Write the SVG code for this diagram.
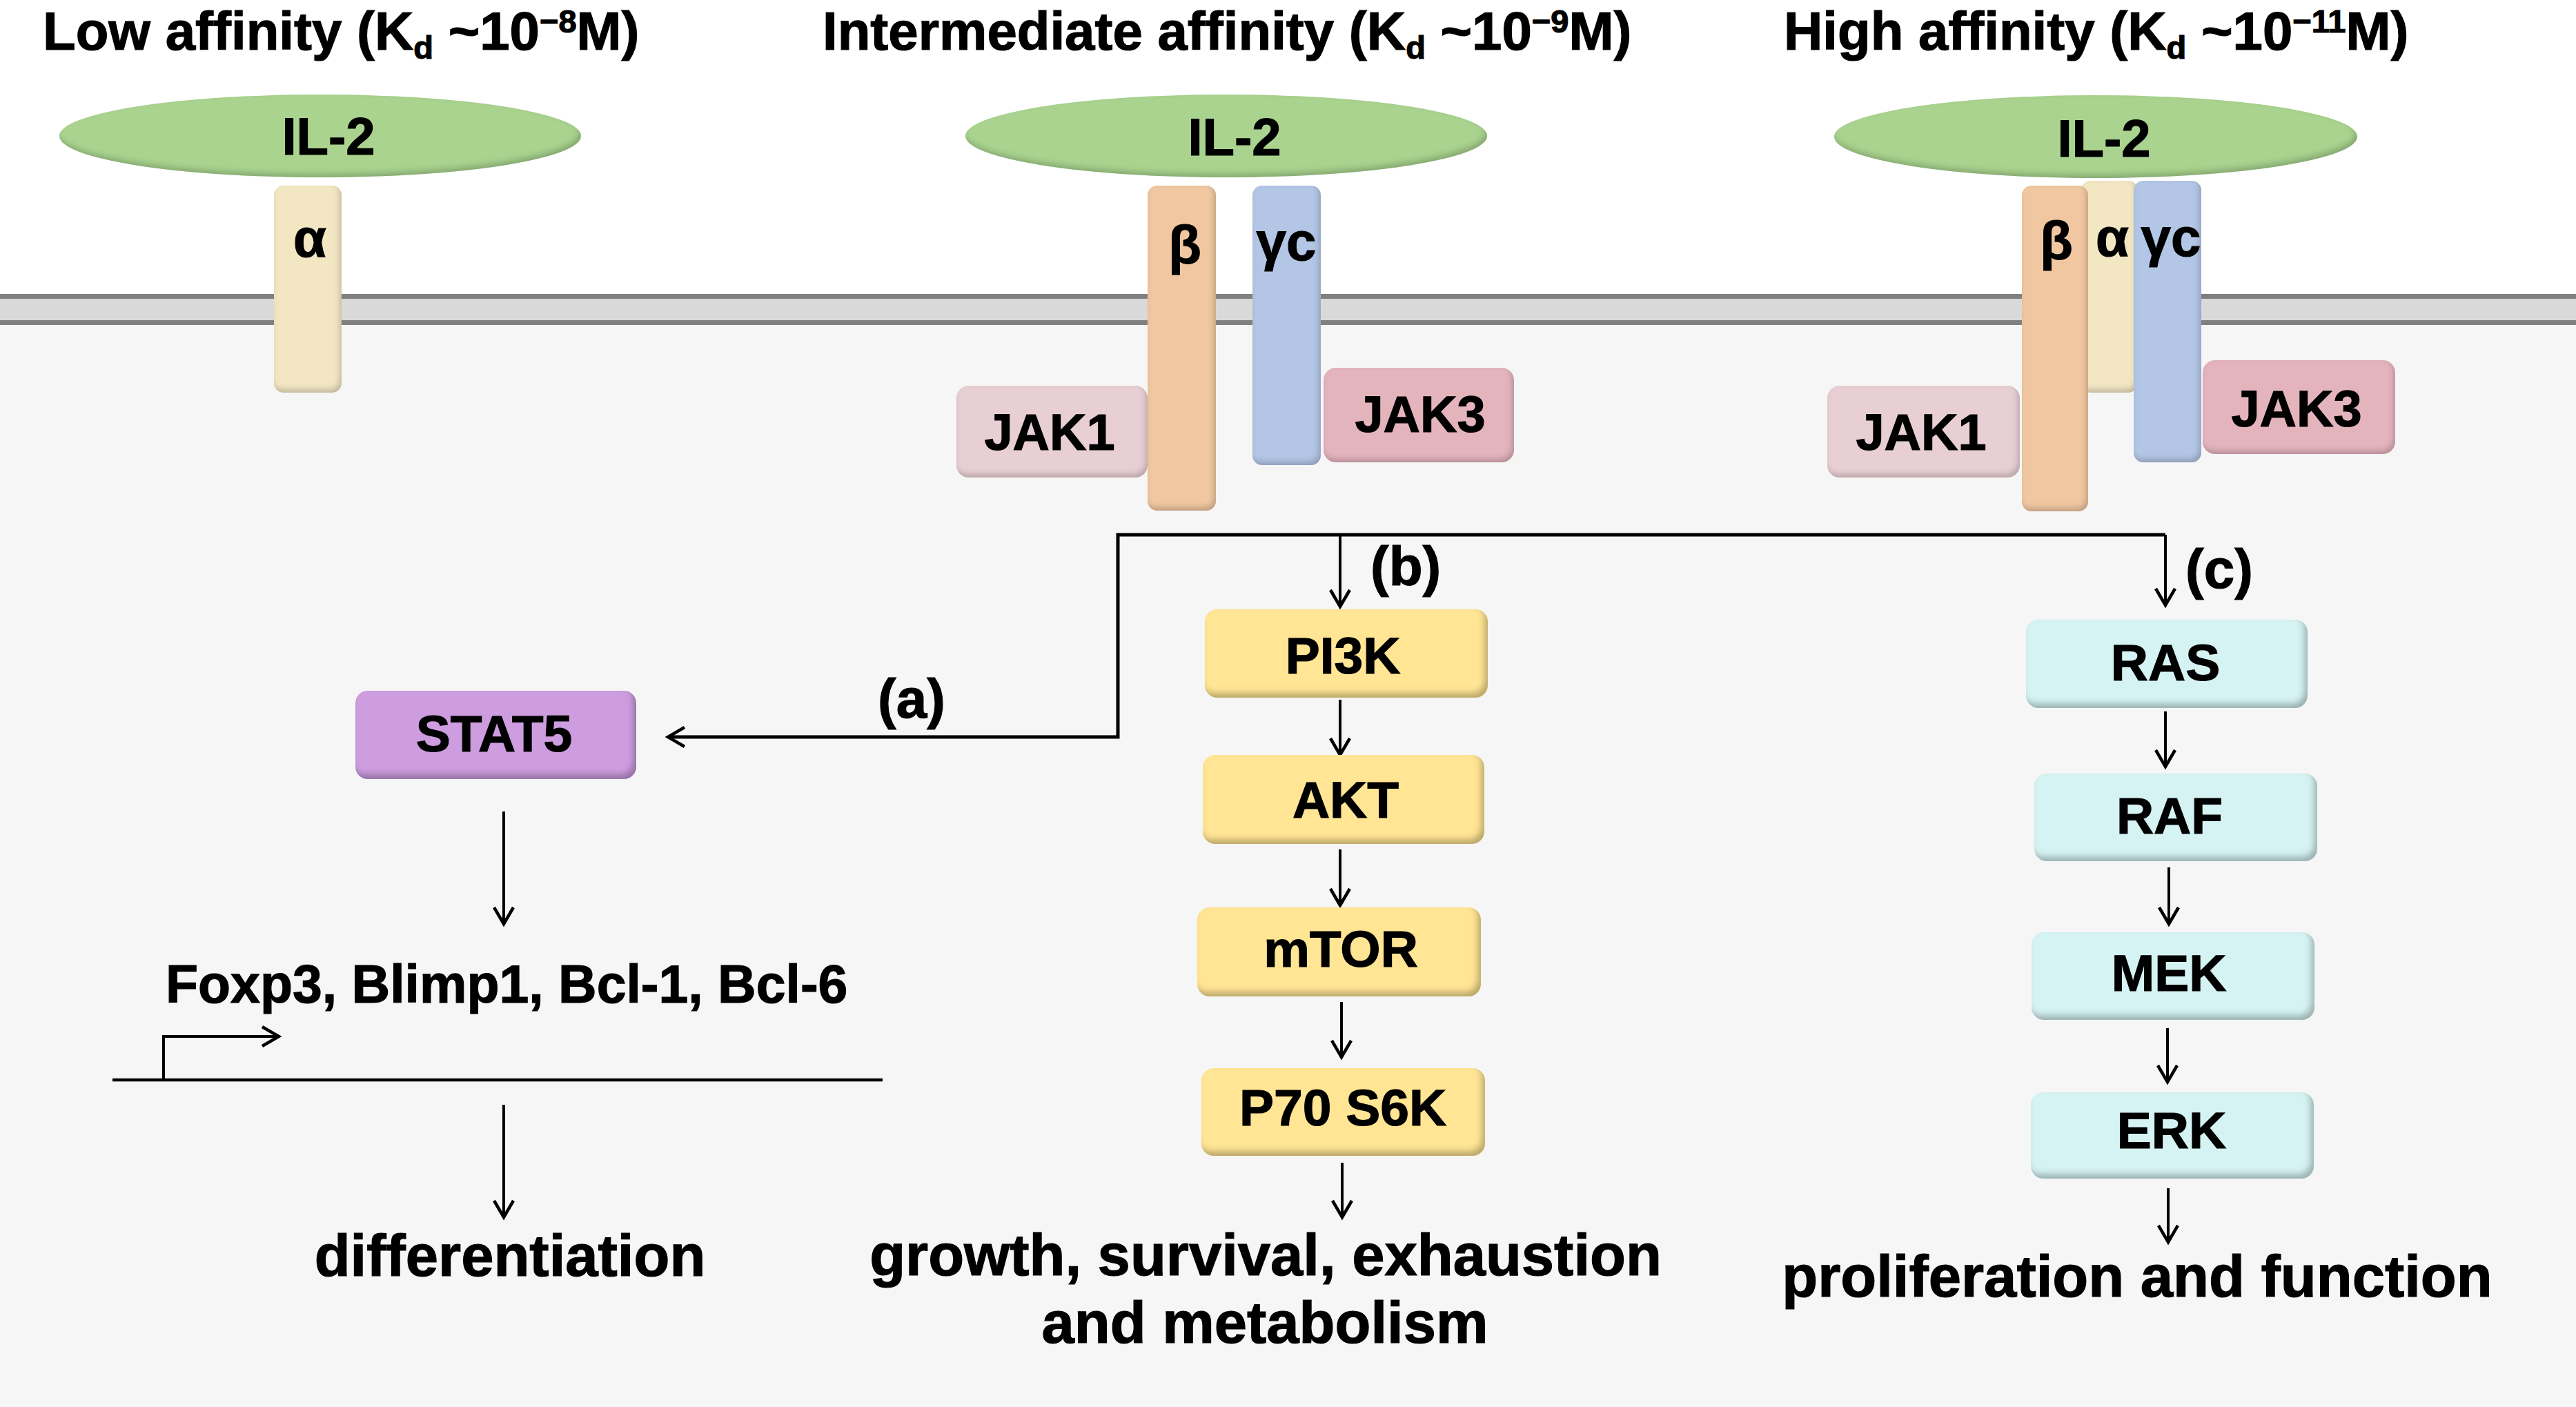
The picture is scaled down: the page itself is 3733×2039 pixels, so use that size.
<svg xmlns="http://www.w3.org/2000/svg" width="3733" height="2039" viewBox="0 0 3733 2039">
<style>
.t{font-family:"Liberation Sans",Arial,sans-serif;font-weight:bold;fill:#000;stroke:#000;stroke-width:1.2px}
.title{font-size:78px}
.sub{font-size:47px}
.lbl{font-size:75px;text-anchor:middle}
.il{font-size:76px;text-anchor:middle}
.gk{font-size:78px;text-anchor:middle}
.jak{font-size:74px;text-anchor:middle}
.tag{font-size:80px}
.out{font-size:85px;text-anchor:middle}
.gene{font-size:77px}
.conn{fill:none;stroke:#000;stroke-width:5}
.arr{fill:none;stroke:#000;stroke-width:4;marker-end:url(#ah)}
.yel{fill:#ffe594}
.cya{fill:#d6f3f3}
.pur{fill:#cd9ddf}
.il2{fill:#a9d38f}
</style>
<defs>
<filter id="bev" x="-10%" y="-10%" width="120%" height="120%">
<feGaussianBlur in="SourceAlpha" stdDeviation="5" result="blur"/>
<feOffset in="blur" dx="-5" dy="-7" result="off"/>
<feComposite in="SourceAlpha" in2="off" operator="out" result="edge"/>
<feFlood flood-color="#000" flood-opacity="0.5" result="col"/>
<feComposite in="col" in2="edge" operator="in" result="shadow"/>
<feMerge><feMergeNode in="SourceGraphic"/><feMergeNode in="shadow"/></feMerge>
</filter>
<filter id="bev2" x="-10%" y="-10%" width="120%" height="120%">
<feGaussianBlur in="SourceAlpha" stdDeviation="4" result="blur"/>
<feOffset in="blur" dx="-3" dy="-5" result="off"/>
<feComposite in="SourceAlpha" in2="off" operator="out" result="edge"/>
<feFlood flood-color="#000" flood-opacity="0.4" result="col"/>
<feComposite in="col" in2="edge" operator="in" result="shadow"/>
<feMerge><feMergeNode in="SourceGraphic"/><feMergeNode in="shadow"/></feMerge>
</filter>
<marker id="ah" markerUnits="userSpaceOnUse" markerWidth="40" markerHeight="40" orient="auto" refX="0" refY="0" overflow="visible">
<path d="M-24,-14 L0,0 L-24,14" fill="none" stroke="#000" stroke-width="4.5"/>
</marker>
</defs>

<g id="background">
<rect x="0" y="0" width="3733" height="2039" fill="#ffffff"/>
<rect x="0" y="430" width="3733" height="1609" fill="#f6f6f6"/>
<rect x="0" y="432" width="3733" height="33" fill="#d9d9d9"/>
<line x1="0" y1="429.5" x2="3733" y2="429.5" stroke="#808080" stroke-width="7"/>
<line x1="0" y1="467.5" x2="3733" y2="467.5" stroke="#808080" stroke-width="7"/>
</g>

<g id="titles">
<text class="t title" x="62" y="72">Low affinity (K<tspan class="sub" dy="13">d</tspan><tspan dy="-13"> ~10</tspan><tspan class="sub" dy="-25">−8</tspan><tspan dy="25">M)</tspan></text>
<text class="t title" x="1192" y="72">Intermediate affinity (K<tspan class="sub" dy="13">d</tspan><tspan dy="-13"> ~10</tspan><tspan class="sub" dy="-25">−9</tspan><tspan dy="25">M)</tspan></text>
<text class="t title" x="2585" y="72">High affinity (K<tspan class="sub" dy="13">d</tspan><tspan dy="-13"> ~10</tspan><tspan class="sub" dy="-25">−11</tspan><tspan dy="25">M)</tspan></text>
</g>

<!-- Low affinity receptor -->
<g id="low-alpha">
<rect x="397" y="269" width="98" height="300" rx="14" fill="#f3e6c3" filter="url(#bev2)"/>
<text class="t gk" x="449" y="372">α</text>
</g>
<g id="low-il2">
<ellipse cx="464" cy="197" rx="378" ry="60" class="il2" filter="url(#bev2)"/>
<text class="t il" x="476" y="224">IL-2</text>
</g>

<!-- Intermediate affinity receptor -->
<g id="mid-beta">
<rect x="1663" y="269" width="99" height="471" rx="14" fill="#f0c7a1" filter="url(#bev2)"/>
<text class="t gk" x="1717" y="382">β</text>
</g>
<g id="mid-gamma">
<rect x="1815" y="269" width="99" height="405" rx="14" fill="#b3c6e6" filter="url(#bev2)"/>
<text class="t gk" x="1864" y="377">γc</text>
</g>
<g id="mid-jak1">
<rect x="1386" y="559" width="277" height="133" rx="18" fill="#e8cfd4" filter="url(#bev2)"/>
<text class="t jak" x="1521" y="652">JAK1</text>
</g>
<g id="mid-jak3">
<rect x="1918" y="533" width="276" height="137" rx="18" fill="#e4b4bd" filter="url(#bev2)"/>
<text class="t jak" x="2058" y="626">JAK3</text>
</g>
<g id="mid-il2">
<ellipse cx="1777" cy="197" rx="378" ry="60" class="il2" filter="url(#bev2)"/>
<text class="t il" x="1789" y="225">IL-2</text>
</g>

<!-- High affinity receptor -->
<g id="high-alpha">
<rect x="3016" y="262" width="82" height="307" rx="14" fill="#f3e6c3" filter="url(#bev2)"/>
<text class="t gk" x="3061" y="371">α</text>
</g>
<g id="high-beta">
<rect x="2930" y="269" width="96" height="472" rx="14" fill="#f0c7a1" filter="url(#bev2)"/>
<text class="t gk" x="2980" y="376">β</text>
</g>
<g id="high-gamma">
<rect x="3092" y="262" width="98" height="408" rx="14" fill="#b3c6e6" filter="url(#bev2)"/>
<text class="t gk" x="3146" y="371">γc</text>
</g>
<g id="high-jak1">
<rect x="2648" y="559" width="279" height="133" rx="18" fill="#e8cfd4" filter="url(#bev2)"/>
<text class="t jak" x="2784" y="652">JAK1</text>
</g>
<g id="high-jak3">
<rect x="3192" y="522" width="279" height="136" rx="18" fill="#e4b4bd" filter="url(#bev2)"/>
<text class="t jak" x="3328" y="618">JAK3</text>
</g>
<g id="high-il2">
<ellipse cx="3037" cy="198" rx="379" ry="60" class="il2" filter="url(#bev2)"/>
<text class="t il" x="3049" y="227">IL-2</text>
</g>

<!-- Connectors -->
<g id="connectors">
<polyline class="conn" points="3138,775 1620,775 1620,1068 968,1068" marker-end="url(#ah)"/>
<line class="arr" x1="1942" y1="775" x2="1942" y2="879"/>
<line class="arr" x1="3138" y1="775" x2="3138" y2="877"/>
<line class="arr" x1="1942" y1="1014" x2="1942" y2="1094"/>
<line class="arr" x1="1942" y1="1231" x2="1942" y2="1312"/>
<line class="arr" x1="1944" y1="1452" x2="1944" y2="1532"/>
<line class="arr" x1="1945" y1="1685" x2="1945" y2="1764"/>
<line class="arr" x1="3138" y1="1031" x2="3138" y2="1111"/>
<line class="arr" x1="3143" y1="1257" x2="3143" y2="1339"/>
<line class="arr" x1="3141" y1="1490" x2="3141" y2="1568"/>
<line class="arr" x1="3142" y1="1722" x2="3142" y2="1800"/>
<line class="arr" x1="730" y1="1176" x2="730" y2="1339"/>
<line class="arr" x1="730" y1="1601" x2="730" y2="1764"/>
<polyline class="arr" points="237,1565 237,1502 404,1502"/>
<line x1="163" y1="1565" x2="1279" y2="1565" stroke="#000" stroke-width="4.5"/>
</g>

<g id="labels">
<text class="t tag" x="1272" y="1040">(a)</text>
<text class="t tag" x="1986" y="848">(b)</text>
<text class="t tag" x="3167" y="852">(c)</text>
</g>

<!-- Pathway a -->
<g id="stat5">
<rect x="515" y="1001" width="407" height="128" rx="18" class="pur" filter="url(#bev)"/>
<text class="t lbl" x="716" y="1089">STAT5</text>
</g>
<g id="genes">
<text class="t gene" x="240" y="1453">Foxp3, Blimp1, Bcl-1, Bcl-6</text>
</g>
<g id="differentiation">
<text class="t out" x="739" y="1849">differentiation</text>
</g>

<!-- Pathway b -->
<g id="pi3k">
<rect x="1746" y="883" width="410" height="128" rx="18" class="yel" filter="url(#bev)"/>
<text class="t lbl" x="1946" y="976">PI3K</text>
</g>
<g id="akt">
<rect x="1743" y="1094" width="408" height="129" rx="18" class="yel" filter="url(#bev)"/>
<text class="t lbl" x="1950" y="1185">AKT</text>
</g>
<g id="mtor">
<rect x="1735" y="1315" width="411" height="129" rx="18" class="yel" filter="url(#bev)"/>
<text class="t lbl" x="1943" y="1401">mTOR</text>
</g>
<g id="p70s6k">
<rect x="1741" y="1548" width="411" height="127" rx="18" class="yel" filter="url(#bev)"/>
<text class="t lbl" x="1946" y="1631">P70 S6K</text>
</g>
<g id="growth">
<text class="t out" x="1834" y="1848">growth, survival, exhaustion</text>
<text class="t out" x="1833" y="1946">and metabolism</text>
</g>

<!-- Pathway c -->
<g id="ras">
<rect x="2936" y="898" width="408" height="128" rx="18" class="cya" filter="url(#bev)"/>
<text class="t lbl" x="3138" y="986">RAS</text>
</g>
<g id="raf">
<rect x="2948" y="1121" width="410" height="127" rx="18" class="cya" filter="url(#bev)"/>
<text class="t lbl" x="3144" y="1208">RAF</text>
</g>
<g id="mek">
<rect x="2944" y="1351" width="410" height="127" rx="18" class="cya" filter="url(#bev)"/>
<text class="t lbl" x="3143" y="1436">MEK</text>
</g>
<g id="erk">
<rect x="2943" y="1583" width="410" height="125" rx="18" class="cya" filter="url(#bev)"/>
<text class="t lbl" x="3147" y="1664">ERK</text>
</g>
<g id="proliferation">
<text class="t out" x="3097" y="1879">proliferation and function</text>
</g>
</svg>
